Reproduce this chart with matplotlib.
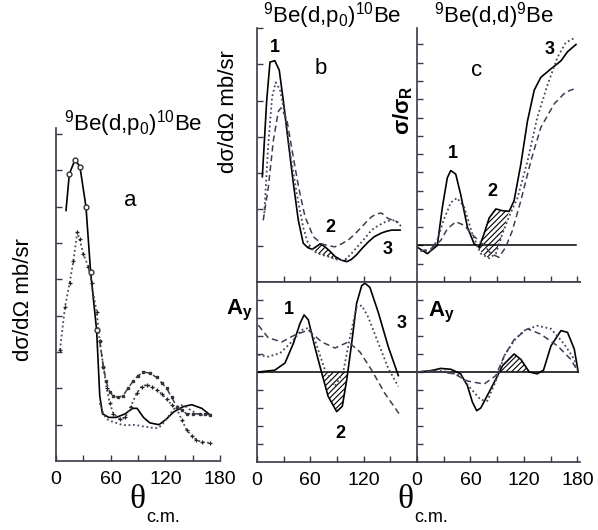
import matplotlib
matplotlib.use('Agg')
import matplotlib.pyplot as plt
import numpy as np

plt.rcParams['font.family'] = 'Liberation Sans'
plt.rcParams['mathtext.fontset'] = 'custom'
plt.rcParams['mathtext.rm'] = 'Liberation Sans'
plt.rcParams['mathtext.it'] = 'Liberation Sans:italic'
plt.rcParams['mathtext.bf'] = 'Liberation Sans:bold'
plt.rcParams['hatch.linewidth'] = 0.8

# ---- (a) 9Be(d,p0)10Be cross sections, mb/sr ----
a_exp1_th = [11, 14.6, 20.9, 26.3, 32.9, 38, 44.6, 48, 51, 58, 66, 76, 84, 89, 96, 103, 113, 121, 129, 140, 149, 160, 169]
a_exp1 = [6.9, 7.9, 8.3, 8.1, 7.0, 5.2, 3.6, 1.8, 1.3, 1.2, 1.2, 1.3, 1.45, 1.45, 1.2, 1.05, 1.0, 1.15, 1.35, 1.5, 1.55, 1.45, 1.27]
a_exp2_th = [4.4, 9.9, 15, 19, 23.4, 26, 30, 35.5, 39, 44.6, 48, 52, 55.6, 59, 63, 70, 76, 82, 88.6, 94, 99.5, 105, 110.5,
             116, 121.5, 127, 132.5, 138, 143.5, 149, 154, 160, 169]
a_exp2 = [3.06, 4.25, 4.9, 5.5, 6.3, 6.1, 5.7, 5.35, 4.9, 4.1, 3.3, 2.6, 2.0, 1.6, 1.3, 1.15, 1.2, 1.5, 1.87, 2.05, 2.1, 2.05, 1.95,
          1.85, 1.7, 1.55, 1.45, 1.13, 0.85, 0.7, 0.58, 0.52, 0.5]
a_exp3_th = [48, 52, 55, 59, 62.6, 68, 73.6, 79, 84.6, 90, 96, 103, 110.5, 116, 121.5, 127, 132.5, 138, 143.5, 150, 158, 164, 169]
a_exp3 = [3.3, 2.6, 2.2, 1.9, 1.8, 1.75, 1.8, 2.0, 2.2, 2.35, 2.45, 2.42, 2.3, 2.15, 2.0, 1.75, 1.5, 1.4, 1.3, 1.3, 1.3, 1.3, 1.27]
a_calc_th = [48, 52, 56, 60, 66, 72, 78, 84, 90, 96, 103, 108, 113, 118, 124, 130, 136, 142, 148, 155, 162]
a_calc = [1.6, 1.3, 1.15, 1.1, 1.05, 1.0, 0.98, 1.0, 0.98, 0.95, 0.93, 0.9, 0.92, 1.05, 1.25, 1.45, 1.55, 1.5, 1.4, 1.3, 1.25]

# ---- (b) 9Be(d,p0)10Be, calculations ----
b_sol_th = [6, 10.9, 14.6, 20, 25, 29.6, 35, 41, 46.5, 52, 57, 62, 67, 71, 76, 82, 88, 95, 101, 106, 112, 118, 125, 132, 140, 146, 151.5, 157, 161]
b_sol = [2.9, 5.0, 6.06, 6.1, 5.84, 5.0, 3.9, 2.7, 1.7, 1.07, 0.95, 0.9, 0.98, 1.05, 0.98, 0.85, 0.7, 0.6, 0.56, 0.62, 0.75, 0.92, 1.1, 1.25, 1.35, 1.4, 1.43, 1.43, 1.43]
b_dot_th = [8.2, 12.7, 17, 21, 25.9, 31.5, 37, 44.6, 52, 57, 62, 67, 73, 80, 88, 94, 99, 105, 114, 121, 129, 136, 144, 150, 155, 160, 163]
b_dot = [1.9, 3.8, 5.1, 5.5, 5.3, 4.6, 3.6, 2.45, 1.5, 1.1, 0.9, 0.8, 0.75, 0.7, 0.63, 0.6, 0.62, 0.75, 1.0, 1.2, 1.43, 1.55, 1.65, 1.7, 1.7, 1.6, 1.5]
b_dash_th = [7, 12.7, 18.4, 24, 27, 33.4, 39, 46.5, 54, 63.4, 72.8, 80, 87.7, 95, 102.8, 110, 117.8, 124, 129, 135, 140, 147.5, 153, 159]
b_dash = [1.7, 2.6, 3.9, 4.7, 4.8, 4.5, 3.7, 2.65, 1.8, 1.25, 1.05, 1.0, 0.97, 1.05, 1.16, 1.32, 1.52, 1.68, 1.8, 1.88, 1.9, 1.75, 1.7, 1.65]

by_sol_th = [1.5, 20, 31.5, 41, 48.4, 53, 57.7, 65, 72.8, 80, 89.6, 96, 100.9, 106.5, 112, 117.8, 121.5, 127, 136.5, 147.7, 159]
by_sol = [0, 0.1, 0.5, 1.6, 2.7, 3.17, 2.9, 1.4, -0.05, -1.35, -2.2, -1.9, -0.45, 1.6, 3.8, 4.8, 4.93, 4.7, 3.3, 1.4, -0.2]
by_dot_th = [1.5, 12.7, 26, 39, 50, 57.7, 65, 76.5, 87.7, 97, 104.6, 112, 117.8, 125, 136.5, 147.7, 159]
by_dot = [0.95, 0.85, 1.05, 1.67, 2.33, 2.45, 1.8, 0.1, -0.8, 0, 1.95, 3.6, 3.7, 3.06, 1.6, 0.2, -0.8]
by_dash_th = [1.5, 12.7, 28, 42.7, 57.7, 72.8, 87.7, 102.8, 116, 129, 144, 161]
by_dash = [2.6, 1.9, 1.67, 2.06, 2.33, 1.67, 1.33, 1.67, 1.1, 0.1, -1.2, -2.4]

# ---- (c) 9Be(d,d)9Be ----
c_sol_th = [0.4, 11.6, 22.8, 28.5, 34, 37.9, 43.5, 49, 56.6, 64, 69.7, 75.4, 81, 88.5, 96, 103.5, 109, 116.6, 124, 131.6, 139, 150, 161.6, 169, 178.5]
c_sol = [-0.1, -0.45, 0, 2.1, 3.7, 4.1, 3.9, 2.8, 1.0, 0.1, -0.1, 0.65, 1.5, 2.0, 1.9, 1.87, 2.45, 4.45, 6.8, 8.5, 9.2, 9.65, 10.1, 10.6, 11.0]
c_dot_th = [4, 15, 22.8, 30, 38, 45, 53, 62, 71.6, 81, 88.5, 96, 103.5, 112.8, 124, 135, 146.6, 157.8, 167, 178.5]
c_dot = [-0.3, -0.3, 0.3, 1.4, 2.35, 2.6, 2.1, 0.65, -0.45, -0.7, -0.45, 0.65, 1.6, 2.6, 4.6, 7.0, 8.8, 10.3, 11.1, 11.4]
c_dash_th = [4, 15, 26.6, 34, 43.5, 53, 64, 75.4, 83, 92, 99.5, 107, 116.6, 128, 139, 154, 167, 178.5]
c_dash = [-0.3, -0.2, 0.27, 0.9, 1.3, 1.1, 0.5, 0, -0.45, -0.65, -0.1, 0.8, 2.45, 4.65, 6.45, 7.75, 8.4, 8.6]

cy_sol_th = [0.4, 15.4, 26.6, 38, 49, 56.6, 62.2, 67, 71.6, 79, 88.5, 96, 109, 116.6, 126, 135, 142, 150.4, 161.6, 169, 176.6, 181]
cy_sol = [0, 0.07, 0.2, 0.15, -0.1, -0.76, -1.67, -2.15, -2.0, -1.3, -0.4, 0.35, 1.0, 0.7, 0, -0.1, 0.1, 1.45, 2.3, 2.2, 1.27, 0]
cy_dot_th = [0.4, 19, 34, 49, 60, 71.6, 79, 88.5, 98, 109, 120, 135, 150.4, 165, 176.6, 181]
cy_dot = [0, 0.1, 0.02, -0.2, -0.9, -1.55, -1.6, -0.5, 0.9, 1.74, 2.3, 2.57, 2.4, 1.57, 0.7, 0]
cy_dash_th = [0.4, 19, 41.7, 56.6, 75.4, 88.5, 98, 109, 124, 139, 157.8, 172.7, 181]
cy_dash = [0, 0.05, -0.1, -0.5, -0.67, -0.2, 0.9, 1.8, 2.4, 2.1, 1.45, 0.7, 0]

W, H = 598, 530
fig = plt.figure(figsize=(W / 100, H / 100), dpi=100)
spine_c = '#3a3a48'
dot_c = '#44485f'
dash_c = '#3c3f52'


def box(x0, y0, x1, y1):
    return fig.add_axes([x0 / W, 1 - y1 / H, (x1 - x0) / W, (y1 - y0) / H])


def style(ax, show):
    for s in ['left', 'right', 'top', 'bottom']:
        ax.spines[s].set_visible(s in show)
        ax.spines[s].set_color(spine_c)
        ax.spines[s].set_linewidth(1.2)
    ax.tick_params(which='both', direction='in', length=4, width=1, color=spine_c,
                   labelsize=14, pad=7, top=False, right=False)


def ftext(x, y, s, **kw):
    fig.text(x / W, 1 - y / H, s, ha='center', va='center', **kw)


def dotted(ax, th, v, **kw):
    ax.plot(th, v, color=dot_c, lw=1.3, linestyle=(0, (1, 1.5)), **kw)


def dashed(ax, th, v, **kw):
    ax.plot(th, v, color=dash_c, lw=1.1, linestyle=(0, (4, 2.5)), **kw)


# panel a
ax = box(56, 128, 220, 461)
style(ax, ['left', 'bottom'])
ax.set_xlim(0, 180)
ax.set_ylim(0, 9.17)
ax.set_xticks([0, 60, 120, 180])
ax.set_xticks([30, 90, 150], minor=True)
ax.set_yticks(range(1, 10))
ax.set_yticklabels([])
ax.plot(a_exp1_th, a_exp1, color='k', lw=1.2, marker='o', ms=3.5, mfc='white', mec='#333',
        markevery=[1, 2, 3, 4, 5, 6])
dotted(ax, a_exp2_th, a_exp2, marker='+', ms=3.5, mec='#222', mew=0.9)
dashed(ax, a_exp3_th, a_exp3, marker='s', ms=1.8, mec='#333')
dotted(ax, a_calc_th, a_calc)

# panel b, cross section
ax = box(257, 28, 417, 282)
style(ax, ['left', 'bottom'])
ax.set_xlim(0, 180)
ax.set_ylim(0, 7)
ax.set_xticks([30, 60, 90, 120, 150])
ax.set_xticklabels([])
ax.set_yticks(range(1, 8))
ax.set_yticklabels([])
ax.plot(b_sol_th, b_sol, color='k', lw=1.2)
dotted(ax, b_dot_th, b_dot)
dashed(ax, b_dash_th, b_dash)
th = np.array(b_sol_th)
ax.fill_between(th, b_sol, np.interp(th, b_dot_th, b_dot), where=(th >= 57) & (th <= 101),
                interpolate=True, facecolor='none', edgecolor='k', lw=0, hatch='//////')

# panel c, sigma/sigma_R
ax = box(417, 28, 580, 282)
style(ax, ['left', 'bottom'])
ax.set_xlim(0, 183)
ax.set_ylim(-2, 11.9)
ax.set_xticks([30, 60, 90, 120, 150, 180])
ax.set_xticklabels([])
ax.set_yticks(range(-1, 12))
ax.set_yticklabels([])
ax.plot([0, 178], [0, 0], color='k', lw=1.1)
ax.plot(c_sol_th, c_sol, color='k', lw=1.2)
dotted(ax, c_dot_th, c_dot)
dashed(ax, c_dash_th, c_dash)
th = np.array(c_sol_th)
ax.fill_between(th, c_sol, np.interp(th, c_dot_th, c_dot), where=(th >= 69) & (th <= 100),
                interpolate=True, facecolor='none', edgecolor='k', lw=0, hatch='//////')

# panel b, analysing power
ax = box(257, 282, 417, 462)
style(ax, ['left', 'top', 'bottom'])
ax.set_xlim(0, 180)
ax.set_ylim(-5, 5)
ax.set_xticks([0, 60, 120])
ax.set_xticks([30, 90, 150], minor=True)
ax.set_yticks(range(-4, 5))
ax.set_yticklabels([])
ax.axhline(0, color='k', lw=1.1)
ax.plot(by_sol_th, by_sol, color='k', lw=1.2)
dotted(ax, by_dot_th, by_dot)
dashed(ax, by_dash_th, by_dash)
th = np.array(by_sol_th)
ax.fill_between(th, by_sol, 0, where=(th >= 70) & (th <= 102), interpolate=True,
                facecolor='none', edgecolor='k', lw=0, hatch='//////')

# panel c, analysing power
ax = box(417, 282, 580, 462)
style(ax, ['left', 'top', 'bottom'])
ax.set_xlim(0, 183)
ax.set_ylim(-5, 5)
ax.set_xticks([0, 60, 120, 180])
ax.set_xticks([30, 90, 150], minor=True)
ax.set_yticks(range(-4, 5))
ax.set_yticklabels([])
ax.plot([0, 181], [0, 0], color='k', lw=1.1)
ax.plot(cy_sol_th, cy_sol, color='k', lw=1.2)
dotted(ax, cy_dot_th, cy_dot)
dashed(ax, cy_dash_th, cy_dash)
th = np.array(cy_sol_th)
ax.fill_between(th, cy_sol, 0, where=(th >= 92) & (th <= 126), interpolate=True,
                facecolor='none', edgecolor='k', lw=0, hatch='//////')

# titles, labels and curve numbers
ftext(133, 124, r'$^{9}$Be(d,p$_{0}$)$^{10}$Be', fontsize=16)
ftext(332, 16, r'$^{9}$Be(d,p$_{0}$)$^{10}$Be', fontsize=16)
ftext(494, 16, r'$^{9}$Be(d,d)$^{9}$Be', fontsize=16)
ftext(24, 300, 'dσ/dΩ mb/sr', fontsize=16, rotation=90)
ftext(229, 112, 'dσ/dΩ mb/sr', fontsize=16, rotation=90)
ftext(403, 110, r'$\mathbf{\sigma/\sigma_R}$', fontsize=16, rotation=90)
ftext(239, 310, r'$\mathbf{A_y}$', fontsize=16)
ftext(441, 312, r'$\mathbf{A_y}$', fontsize=16)
ftext(130, 200, 'a', fontsize=16)
ftext(321, 68, 'b', fontsize=16)
ftext(477, 70, 'c', fontsize=16)
for x, y, s in [(275, 47, '1'), (330, 227, '2'), (388, 250, '3'),
                (453, 153, '1'), (492, 192, '2'), (550, 50, '3'),
                (289, 309, '1'), (340, 433, '2'), (402, 323, '3')]:
    ftext(x, y, s, fontsize=13, fontweight='bold')
for x in (137, 405):
    ftext(x, 500, 'θ', fontsize=24, family='Liberation Serif')
    ftext(x + 26, 517, 'c.m.', fontsize=13)

fig.savefig('out.png', dpi=100)
